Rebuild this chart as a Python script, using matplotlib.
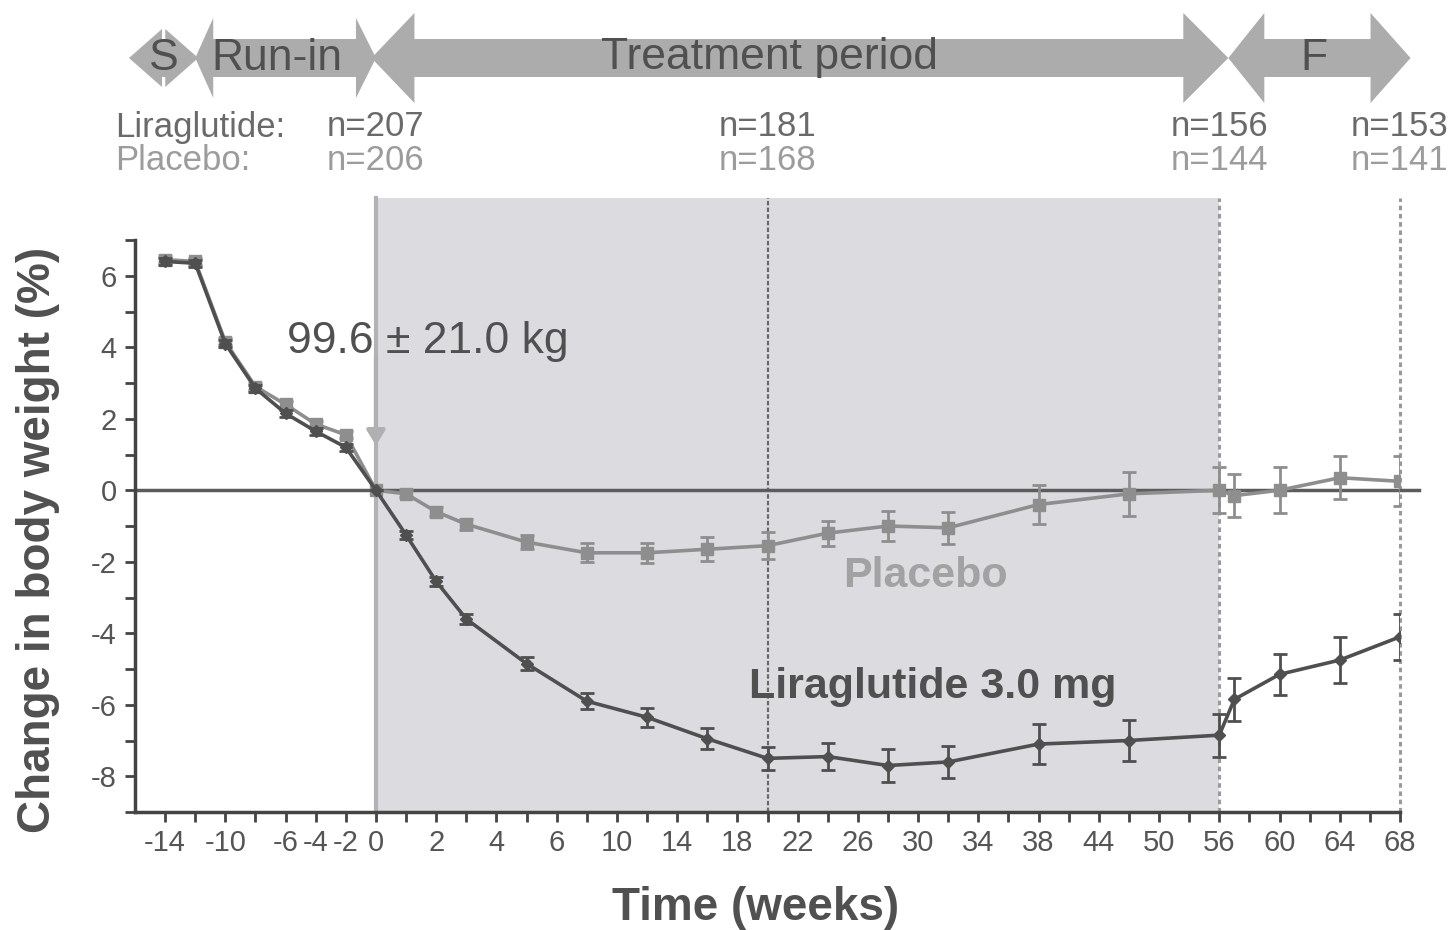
import numpy as np
import matplotlib
matplotlib.use("Agg")
import matplotlib.pyplot as plt
from matplotlib.patches import Polygon

# ---- data -------------------------------------------------------------
weeks = [-14, -12, -10, -8, -6, -4, -2, 0, 1, 2, 3, 5, 8, 12, 16, 20,
         24, 28, 32, 38, 47, 56, 57, 60, 64, 68]
liraglutide = [6.40, 6.35, 4.10, 2.85, 2.15, 1.65, 1.20, 0.00, -1.25, -2.55,
               -3.60, -4.85, -5.90, -6.35, -6.95, -7.50, -7.45, -7.70, -7.60,
               -7.10, -7.00, -6.85, -5.85, -5.15, -4.75, -4.10]
liraglutide_sem = [0.10, 0.10, 0.10, 0.10, 0.10, 0.10, 0.10, 0.00, 0.10, 0.12,
                   0.15, 0.18, 0.22, 0.26, 0.30, 0.32, 0.38, 0.45, 0.45, 0.55,
                   0.58, 0.60, 0.60, 0.58, 0.65, 0.65]
placebo = [6.45, 6.40, 4.15, 2.90, 2.40, 1.85, 1.55, 0.00, -0.10, -0.60,
           -0.95, -1.45, -1.75, -1.75, -1.65, -1.55, -1.20, -1.00, -1.05,
           -0.40, -0.10, 0.00, -0.15, 0.00, 0.35, 0.25]
placebo_sem = [0.10, 0.10, 0.10, 0.10, 0.10, 0.10, 0.10, 0.00, 0.10, 0.12,
               0.15, 0.20, 0.27, 0.28, 0.33, 0.38, 0.35, 0.42, 0.45, 0.55,
               0.62, 0.65, 0.60, 0.65, 0.60, 0.70]

# piecewise-linear time axis (weeks -> display units)
scale_weeks = [-30, -16, 0, 6, 38, 56, 68, 80]
scale_units = [-450, -240, 0, 180, 660, 840, 1020, 1200]

tick_weeks = (list(range(-14, 1, 2)) + [1, 2, 3, 4, 5, 6] + list(range(8, 39, 2))
              + [41, 44, 47, 50, 53, 56] + list(range(58, 69, 2)))
labelled_weeks = [-14, -10, -6, -4, -2, 0, 2, 4, 6, 10, 14, 18, 22, 26, 30,
                  34, 38, 44, 50, 56, 60, 64, 68]

phase_names = ["S", "Run-in", "Treatment period", "F"]
phase_start = [-16.4, -12.0, -0.3, 56.6]
phase_end = [-11.8, 0.0, 56.6, 68.7]
phase_label_week = [-14.1, -6.6, 20.1, 62.3]

n_weeks = [0, 20, 56, 68]
n_liraglutide = [207, 181, 156, 153]
n_placebo = [206, 168, 144, 141]

baseline_text = "99.6 \u00b1 21.0 kg"

# ---- style ------------------------------------------------------------
plt.rcParams["font.family"] = ["Liberation Sans", "DejaVu Sans"]

TXT = "#505050"
LIRA = "#4f4f4f"
PLAC = "#8e8e8e"
ARROW = "#acacac"
SHADE = "#dcdce0"

W, H = 1452, 930
fig = plt.figure(figsize=(W / 100, H / 100), dpi=100, facecolor="white")

left, right, top, bottom = 135, 1400, 240, 812
ax = fig.add_axes([left / W, 1 - bottom / H, (right - left) / W, (bottom - top) / H])
ax.set_zorder(2)


def fwd(x):
    return np.interp(x, scale_weeks, scale_units)


def inv(u):
    return np.interp(u, scale_units, scale_weeks)


ax.set_xscale("function", functions=(fwd, inv))
ax.set_xlim(-16, 68)
ax.set_ylim(-9, 7)

# treatment period shading and reference lines (extend above the axes)
ext = 1.073
ax.axvspan(0, 56, ymin=0, ymax=ext, color=SHADE, lw=0, zorder=0, clip_on=False)
ax.axvline(0, ymin=0, ymax=ext, color="#b2b2b2", lw=3, zorder=1, clip_on=False)
ax.axvline(20, ymin=0, ymax=ext, color="#6a6a6a", lw=1.6, ls=(0, (2, 1)), zorder=1, clip_on=False)
ax.axvline(56, ymin=0, ymax=ext, color="#9a9a9a", lw=2.2, ls=(0, (1.5, 1.2)), zorder=1, clip_on=False)
ax.axvline(68, ymin=0, ymax=ext, color="#9a9a9a", lw=2.2, ls=(0, (1.5, 1.2)), zorder=1, clip_on=False)
ax.axhline(0, xmin=0, xmax=1.015, color="#5c5c5c", lw=2.5, zorder=2, clip_on=False)

# series
ax.errorbar(weeks, placebo, yerr=placebo_sem, color=PLAC, lw=2.6, marker="s",
            markersize=8.5, capsize=5, capthick=2, elinewidth=2, zorder=4)
ax.errorbar(weeks, liraglutide, yerr=liraglutide_sem, color=LIRA, lw=2.6, marker="D",
            markersize=6.5, capsize=5, capthick=2, elinewidth=2, zorder=5)

# baseline weight annotation
ax.annotate("", xy=(0, 1.25), xytext=(0, 3.7),
            arrowprops=dict(arrowstyle="-|>,head_width=0.55,head_length=0.9",
                            color="#b0b0b0", lw=3, shrinkA=0, shrinkB=0), zorder=3)
ax.text(-5.9, 4.15, baseline_text, fontsize=32, color=TXT, ha="left", va="center", zorder=6)

ax.text(25, -2.4, "Placebo", fontsize=31, fontweight="bold", color="#a2a2a2",
        ha="left", va="center", zorder=6)
ax.text(18.8, -5.5, "Liraglutide 3.0 mg", fontsize=31, fontweight="bold", color=TXT,
        ha="left", va="center", zorder=6)

# axes styling
for s in ("top", "right"):
    ax.spines[s].set_visible(False)
for s in ("left", "bottom"):
    ax.spines[s].set_color("#444444")
    ax.spines[s].set_linewidth(2.5)
ax.patch.set_alpha(0)

ax.set_xticks(tick_weeks)
ax.set_xticklabels([str(w) if w in labelled_weeks else "" for w in tick_weeks])
ax.set_yticks(np.arange(-8, 7, 2))
ax.set_yticks(np.arange(-9, 8, 2), minor=True)
ax.set_yticklabels([str(v) for v in np.arange(-8, 7, 2)])
ax.tick_params(axis="both", which="both", direction="out", length=7, width=2,
               color="#444444", labelcolor="#555555", labelsize=21)
ax.tick_params(axis="x", pad=5)
ax.tick_params(axis="y", pad=6)

fig.text(38 / W, 1 - 540 / H, "Change in body weight (%)", rotation=90,
         fontsize=33, fontweight="bold", color=TXT, ha="center", va="center")
fig.text(756 / W, 1 - 908 / H, "Time (weeks)", fontsize=33, fontweight="bold",
         color=TXT, ha="center", va="center")

# ---- study-phase arrows and participant counts ------------------------
ov = fig.add_axes([0, 0, 1, 1])
ov.set_xlim(0, W)
ov.set_ylim(H, 0)
ov.axis("off")
ov.set_zorder(1)


def px(w):
    return ax.transData.transform((w, 0))[0]


head_len = [(33, 33), (18, 20), (43, 45), (36, 40)]
head_half = [29, 40, 45, 45]
body_half = 19
yc = 58
for name, s, e, lw_, (hl, hr), hh in zip(phase_names, phase_start, phase_end,
                                          phase_label_week, head_len, head_half):
    xl, xr = px(s), px(e)
    verts = [(xl, yc), (xl + hl, yc - hh), (xl + hl, yc - body_half),
             (xr - hr, yc - body_half), (xr - hr, yc - hh), (xr, yc),
             (xr - hr, yc + hh), (xr - hr, yc + body_half),
             (xl + hl, yc + body_half), (xl + hl, yc + hh)]
    ov.add_patch(Polygon(verts, closed=True, facecolor=ARROW, edgecolor="none"))
    ov.text(px(lw_), yc, name, fontsize=32, color=TXT, ha="center", va="center")

ov.text(115, 127, "Liraglutide:", fontsize=25, color="#6a6a6a", ha="left", va="center")
ov.text(115, 160, "Placebo:", fontsize=25, color="#9c9c9c", ha="left", va="center")
for w, nl, npb in zip(n_weeks, n_liraglutide, n_placebo):
    ov.text(px(w), 127, f"n={nl}", fontsize=25, color="#6a6a6a", ha="center", va="center")
    ov.text(px(w), 160, f"n={npb}", fontsize=25, color="#9c9c9c", ha="center", va="center")

fig.savefig("out.png", dpi=100, facecolor="white")
